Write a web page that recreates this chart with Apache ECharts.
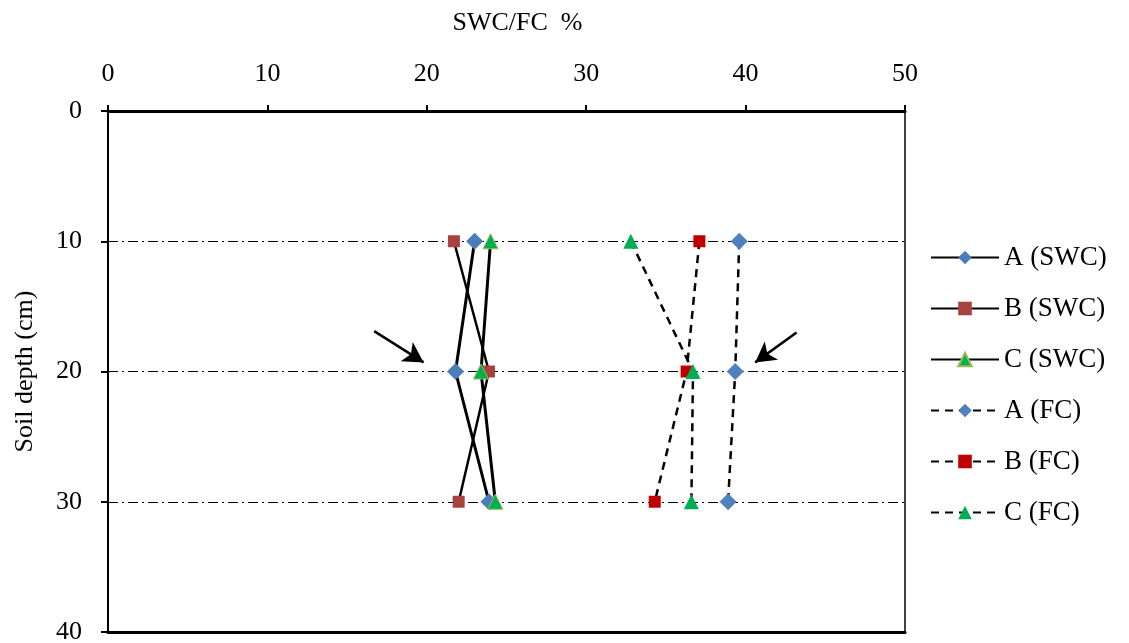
<!DOCTYPE html>
<html>
<head>
<meta charset="utf-8">
<script src="https://cdn.jsdelivr.net/npm/echarts@6/dist/echarts.min.js"></script>
<style>
  html, body { margin: 0; padding: 0; background: #fff; }
  #chart { width: 1129px; height: 643px; }
</style>
</head>
<body>
<div id="chart"></div>
<script>
// depths (cm) for every series
var depths = [10, 20, 30];

// SWC/FC %
var aSWC = [23.0, 21.8, 23.9];
var bSWC = [21.7, 23.9, 22.0];
var cSWC = [24.0, 23.4, 24.3];
var aFC = [39.6, 39.35, 38.9];
var bFC = [37.1, 36.3, 34.3];
var cFC = [32.8, 36.7, 36.6];

var names = ['A (SWC)', 'B (SWC)', 'C (SWC)', 'A (FC)', 'B (FC)', 'C (FC)'];

// arrow annotations, [x, depth] start -> end
var arrows = [
  [[16.7, 16.9], [19.8, 19.3]],
  [[43.2, 17.0], [40.6, 19.3]]
];

function pairs(vals) {
  return vals.map(function (v, i) { return [v, depths[i]]; });
}

var font = 'Liberation Serif';

function mkSeries(name, vals, symbol, size, color, width, dash, border) {
  return {
    name: name,
    type: 'line',
    data: pairs(vals),
    symbol: symbol,
    symbolSize: size,
    itemStyle: { color: color, borderColor: border || color, borderWidth: border ? 1 : 0, opacity: 1 },
    lineStyle: { color: '#000', width: width, type: dash },
    emphasis: { disabled: true },
    z: 3
  };
}

var series = [
  mkSeries(names[0], aSWC, 'diamond', 17, '#4A7EBB', 3, 'solid'),
  mkSeries(names[1], bSWC, 'rect', 12, '#A8423F', 2.5, 'solid'),
  mkSeries(names[2], cSWC, 'triangle', 15, '#00B050', 3, 'solid', '#9BBB59'),
  mkSeries(names[3], aFC, 'diamond', 17, '#4F81BD', 2.5, [8, 6]),
  mkSeries(names[4], bFC, 'rect', 12, '#C00000', 2.5, [8, 6]),
  mkSeries(names[5], cFC, 'triangle', 15, '#00B050', 2.5, [8, 6])
];

series[0].markLine = {
  silent: true,
  symbol: ['none', 'arrow'],
  symbolSize: [17, 20],
  label: { show: false },
  lineStyle: { color: '#000', width: 2.5, type: 'solid' },
  data: arrows.map(function (a) {
    return [{ coord: a[0] }, { coord: a[1] }];
  })
};

var myChart = echarts.init(document.getElementById('chart'), null, { renderer: 'canvas' });

var option = {
  animation: false,
  backgroundColor: '#fff',
  textStyle: { fontFamily: font, color: '#000' },
  grid: { left: 108, right: 224, top: 111, bottom: 11, containLabel: false, outerBoundsMode: 'none' },
  legend: {
    orient: 'vertical',
    left: 925,
    top: 239,
    itemWidth: 68,
    itemHeight: 17,
    itemGap: 24,
    data: names,
    textStyle: { fontFamily: font, fontSize: 27, color: '#000' }
  },
  xAxis: [{
    type: 'value',
    position: 'top',
    min: 0, max: 50, interval: 10,
    name: 'SWC/FC  %',
    nameLocation: 'middle',
    nameGap: 75,
    nameTextStyle: { fontFamily: font, fontSize: 26, color: '#000', padding: [0, 0, 0, 22] },
    axisLine: { show: true, onZero: false, lineStyle: { color: '#000', width: 3 } },
    axisTick: { show: true, length: 6, lineStyle: { color: '#000', width: 2 } },
    axisLabel: { fontFamily: font, fontSize: 26, color: '#000', margin: 24 },
    splitLine: { show: false }
  }, {
    type: 'value',
    position: 'bottom',
    min: 0, max: 50,
    axisLine: { show: true, onZero: false, lineStyle: { color: '#000', width: 3 } },
    axisTick: { show: false },
    axisLabel: { show: false },
    splitLine: { show: false }
  }],
  yAxis: [{
    type: 'value',
    inverse: true,
    min: 0, max: 40, interval: 10,
    name: 'Soil depth (cm)',
    nameLocation: 'middle',
    nameGap: 70,
    nameTextStyle: { fontFamily: font, fontSize: 26, color: '#000' },
    axisLine: { show: true, onZero: false, lineStyle: { color: '#000', width: 2 } },
    axisTick: { show: true, length: 7, lineStyle: { color: '#000', width: 2 } },
    axisLabel: { fontFamily: font, fontSize: 26, color: '#000', margin: 26 },
    splitLine: { show: true, lineStyle: { color: '#000', width: 1, type: [10, 4, 2, 4] } }
  }, {
    type: 'value',
    position: 'right',
    inverse: true,
    min: 0, max: 40,
    axisLine: { show: true, onZero: false, lineStyle: { color: '#000', width: 1.5 } },
    axisTick: { show: false },
    axisLabel: { show: false },
    splitLine: { show: false }
  }],
  series: series
};

myChart.setOption(option);
</script>
</body>
</html>
